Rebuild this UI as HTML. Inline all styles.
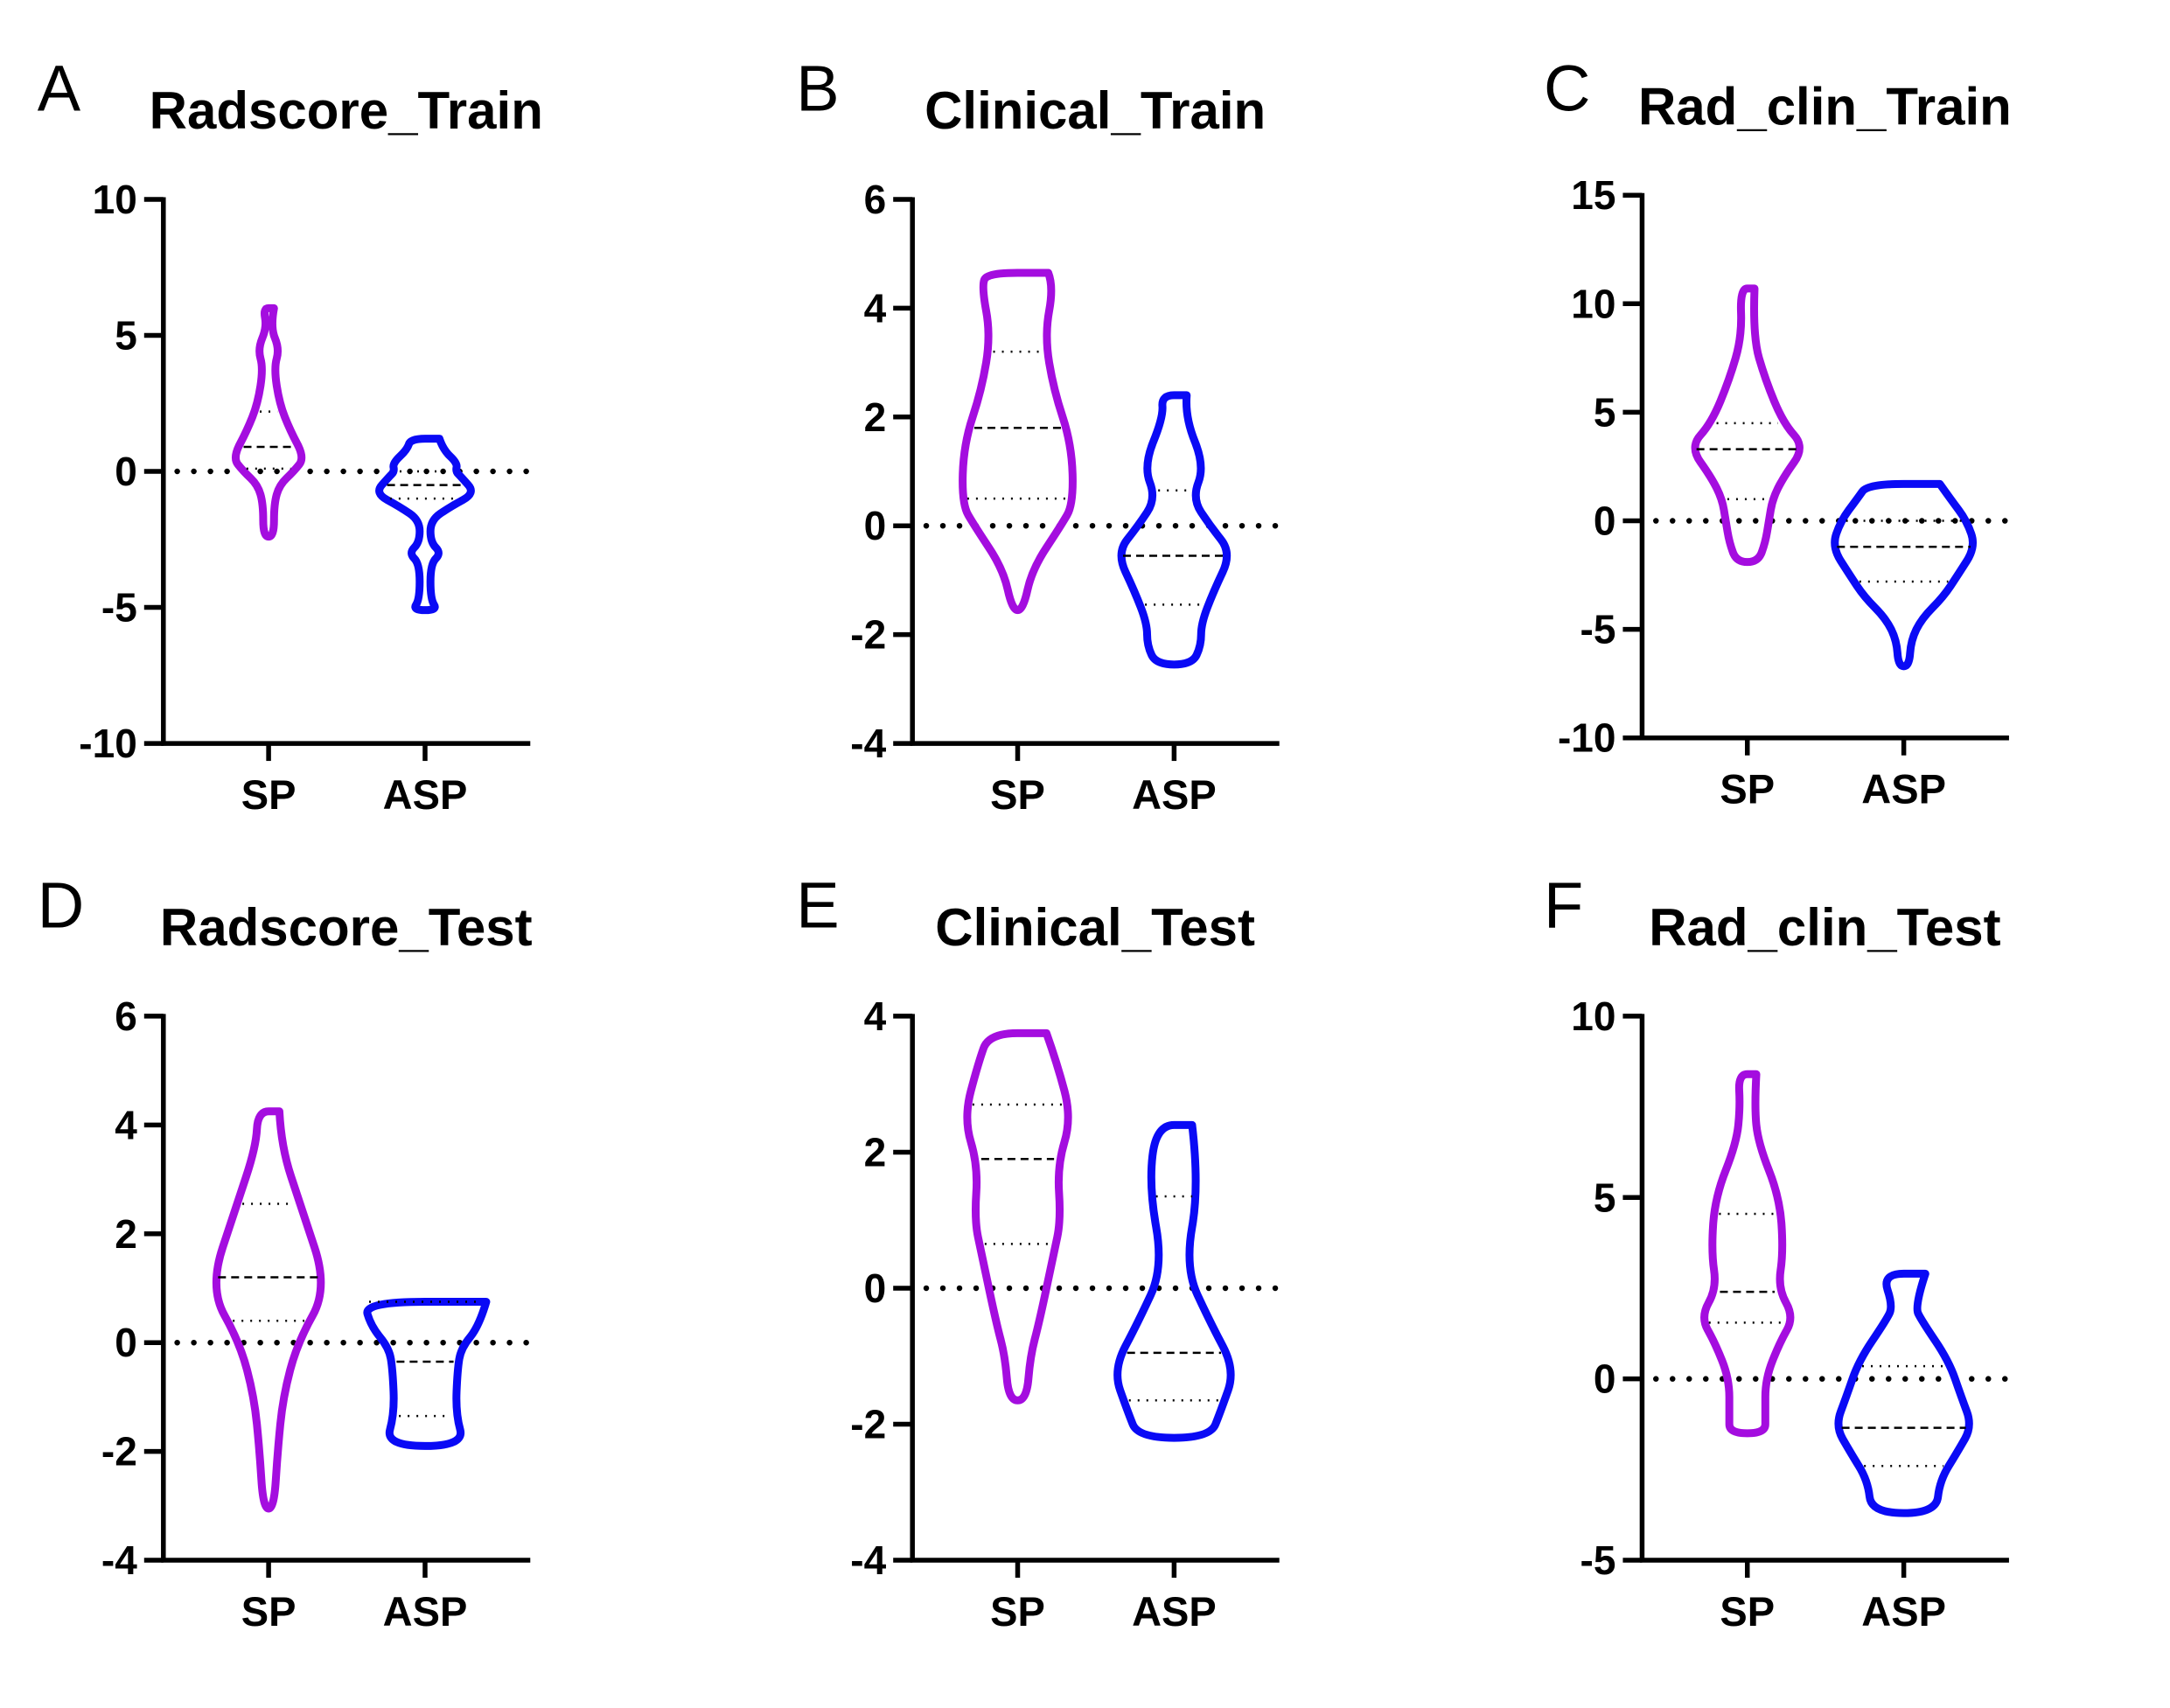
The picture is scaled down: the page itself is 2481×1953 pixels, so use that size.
<!DOCTYPE html>
<html><head><meta charset="utf-8"><style>
html,body{margin:0;padding:0;background:#fff}
svg{display:block}
text{font-family:"Liberation Sans",Arial,sans-serif;fill:#000}
</style></head><body>
<svg id="chart" width="2481" height="1953" viewBox="0 0 2481 1953" xmlns="http://www.w3.org/2000/svg"></svg>
<script>
// ---- data (values in data units; density = relative half-width) ----
const panelLetters = ["A","B","C","D","E","F"];
const panelTitles = ["Radscore_Train","Clinical_Train","Rad_clin_Train","Radscore_Test","Clinical_Test","Rad_clin_Test"];
const categories = ["SP","ASP"];
const yMins = [-10,-4,-10,-4,-4,-5];
const yMaxs = [10,6,15,6,4,10];
const yTicks = [[-10,-5,0,5,10],[-4,-2,0,2,4,6],[-10,-5,0,5,10,15],[-4,-2,0,2,4,6],[-4,-2,0,2,4],[-5,0,5,10]];
// profiles: [value, density]
const spProfiles = [
 [[6.0,3],[5.3,1],[4.5,6],[3.8,3],[2.5,6],[1.5,12],[0.5,20],[0,14],[-0.5,6],[-1.2,3],[-2.4,3]],
 [[4.65,17],[4.4,20],[3.5,15],[2.5,20],[1.5,30],[0.4,31],[0,24],[-0.8,8],[-1.55,3]],
 [[10.7,4],[8.5,3],[6.5,10],[4.5,20],[3.4,32],[2.0,20],[1.0,14],[0,12],[-1.0,10],[-1.9,6]],
 [[4.25,6],[3.6,7],[2.5,18],[1.0,33],[0,16],[-1,8],[-2,5],[-3.05,3]],
 [[3.75,16],[3.3,22],[2.5,30],[1.8,22],[1.0,24],[0.5,20],[-0.5,12],[-1.0,7],[-1.65,5]],
 [[8.4,5],[7.5,4],[6.5,6],[5.0,18],[3.5,20],[2.5,17],[1.7,26],[1.0,18],[0,10],[-1.0,10],[-1.5,10]]
];
const aspProfiles = [
 [[1.2,8],[0.8,10],[0.3,18],[0,17],[-0.2,20],[-0.8,28],[-1.3,14],[-1.8,3],[-2.6,3],[-3.0,9],[-3.4,3],[-4.7,3],[-5.1,7]],
 [[2.4,7],[2.0,6],[1.1,17],[0.5,10],[0,20],[-0.5,32],[-1.2,22],[-1.8,15],[-2.2,15],[-2.55,10]],
 [[1.7,20],[1.0,26],[0,35],[-1.2,40],[-2.5,30],[-3.5,22],[-4.5,10],[-5.5,4],[-6.7,3]],
 [[0.75,34],[0.3,30],[-0.1,20],[-0.5,18],[-1.3,17],[-1.9,22]],
 [[2.4,10],[1.5,14],[0.3,6],[-0.5,20],[-1.2,34],[-1.8,26],[-2.2,20]],
 [[2.9,12],[2.0,6],[1.6,10],[0.5,25],[-0.5,32],[-1.3,38],[-2.0,30],[-2.8,20],[-3.7,18]]
];
const spQuartiles = [[0.1,0.9,2.2],[0.5,1.8,3.2],[1.0,3.3,4.5],[0.4,1.2,2.55],[0.65,1.9,2.7],[1.55,2.4,4.55]];
const aspQuartiles = [[-1.0,-0.5,0],[-1.45,-0.55,0.65],[-2.8,-1.2,0],[-1.35,-0.35,0.75],[-1.65,-0.95,1.35],[-2.4,-1.35,0.35]];

// ---- layout ----
const S = 1.583;
const WS = 1.3*S;
const cols = [118,659,1186], rowsTop=[144,734], rowsBot=[537,1127];
const letterOff = [-91,-84,-71];
const NS="http://www.w3.org/2000/svg";
const svg=document.getElementById('chart');
function el(tag,attrs,parent){const e=document.createElementNS(NS,tag);for(const k in attrs)e.setAttribute(k,attrs[k]);(parent||svg).appendChild(e);return e;}

function widthAt(prof,v){
  for(let i=0;i<prof.length-1;i++){const a=prof[i],b=prof[i+1];
    if(v<=a[0]&&v>=b[0]){const t=(a[0]-v)/(a[0]-b[0]||1);return a[1]+(b[1]-a[1])*t;}}
  return 0;
}
function smoothPath(pts){
  let d=`M${pts[0][0]},${pts[0][1]}`;
  for(let i=1;i<pts.length-1;i++){
    const mx=(pts[i][0]+pts[i+1][0])/2,my=(pts[i][1]+pts[i+1][1])/2;
    d+=` Q${pts[i][0]},${pts[i][1]} ${mx},${my}`;
  }
  d+=` L${pts[pts.length-1][0]},${pts[pts.length-1][1]}`;
  return d;
}

for(let p=0;p<6;p++){
  const r=Math.floor(p/3),c=p%3;
  const ax=cols[c]*S, top=(rowsTop[r]-(c===2&&r===0?3:0))*S, bot=(rowsBot[r]-(c===2&&r===0?4:0))*S;
  const xEnd=ax+265*S;
  const catX=[ax+76*S, ax+189*S];
  const y=v=>bot-(v-yMins[p])/(yMaxs[p]-yMins[p])*(bot-top);
  const g=el('g',{});
  
  

  const lt=el('text',{x:ax+letterOff[c]*S,y:(rowsTop[r]-64)*S,'font-size':74},g);lt.textContent=panelLetters[p];
  
  const tt=el('text',{x:ax+132*S,y:top-51*S,'font-size':60,'font-weight':'bold','text-anchor':'middle'},g);tt.textContent=panelTitles[p];
  

  // zero reference line
  const zl=el('line',{x1:ax+10*S,x2:xEnd,y1:y(0),y2:y(0),stroke:'#000','stroke-width':6.5,'stroke-linecap':'round','stroke-dasharray':'0 19'},g);
  

  // violins
  const profs=[spProfiles[p],aspProfiles[p]], quarts=[spQuartiles[p],aspQuartiles[p]], colors=['#a40ddf','#0a0af5'];
  for(let k=0;k<2;k++){
    const prof=profs[k],cx=catX[k];
    const right=prof.map(q=>[cx+q[1]*WS,y(q[0])]);
    const left=prof.slice().reverse().map(q=>[cx-q[1]*WS,y(q[0])]);
    const pts=right.concat(left);pts.push(right[0]);
    const vp=el('path',{d:smoothPath(pts)+'Z',fill:'none',stroke:colors[k],'stroke-width':9,'stroke-linejoin':'round'},g);
    
    const q=quarts[k];
    for(let j=0;j<3;j++){
      const w=Math.max(widthAt(prof,q[j])*WS-6,0);
      const ql=el('line',{x1:cx-w,x2:cx+w,y1:y(q[j]),y2:y(q[j]),stroke:'#000','stroke-width':2.5,
        'stroke-dasharray':j===1?'9 6':'2 8'},g);
      
      
    }
  }

  // axes
  const ya=el('line',{x1:ax,x2:ax,y1:top-2.5,y2:bot+2.5,stroke:'#000','stroke-width':5.5},g);
  
  const xa=el('line',{x1:ax-2.5,x2:xEnd,y1:bot,y2:bot,stroke:'#000','stroke-width':5.5},g);
  
  yTicks[p].forEach(v=>{
    const tk=el('line',{x1:ax-22,x2:ax,y1:y(v),y2:y(v),stroke:'#000','stroke-width':5.5},g);
    
    const tl=el('text',{x:ax-30,y:y(v)+16,'font-size':46,'font-weight':'bold','text-anchor':'end'},g);
    tl.textContent=String(v);
    
  });
  categories.forEach((cname,k)=>{
    const tk=el('line',{x1:catX[k],x2:catX[k],y1:bot,y2:bot+20,stroke:'#000','stroke-width':5.5},g);
    
    const tl=el('text',{x:catX[k],y:bot+75,'font-size':47,'font-weight':'bold','text-anchor':'middle'},g);
    tl.textContent=cname;
    
  });
}
</script>
</body></html>
